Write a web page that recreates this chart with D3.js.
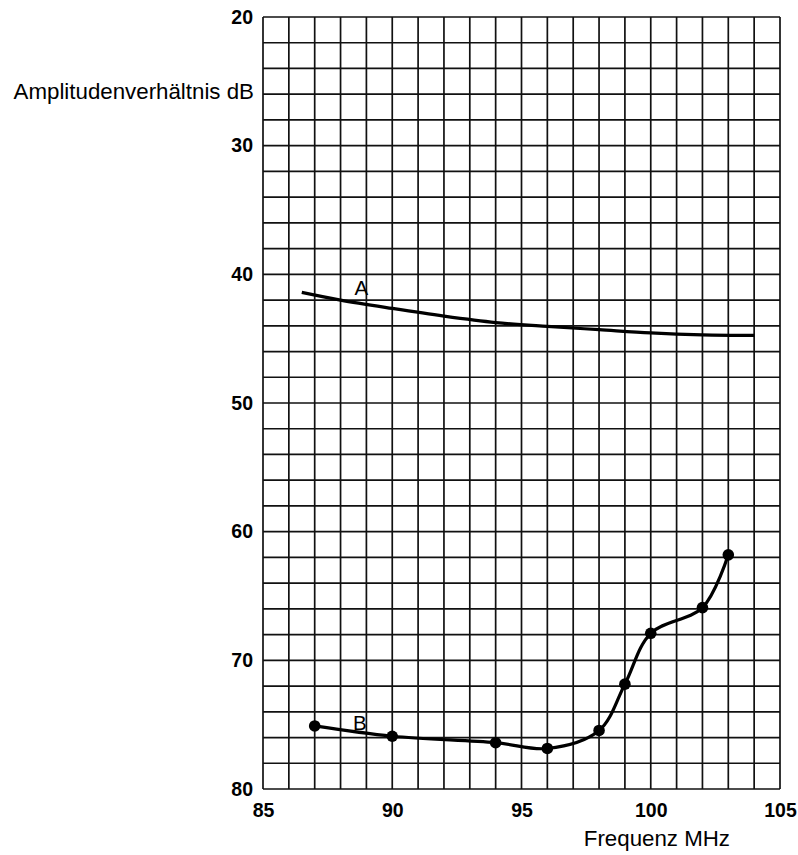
<!DOCTYPE html>
<html>
<head>
<meta charset="utf-8">
<script src="https://cdn.jsdelivr.net/npm/d3@7"></script>
<style>
  html, body { margin: 0; padding: 0; background: #fff; }
  svg { display: block; }
  text { font-family: "Liberation Sans", Arial, Helvetica, sans-serif; fill: #000; }
</style>
</head>
<body>
<svg id="chart" width="798" height="855"></svg>
<script>
// ---- data ----
const xTicks = [85, 90, 95, 100, 105];
const yTicks = [20, 30, 40, 50, 60, 70, 80];
const xLabel = "Frequenz MHz";
const yLabel = "Amplitudenverhältnis dB";

const seriesA_freq = [86.5, 88, 90, 92, 94, 96, 98, 100, 102, 104];
const seriesA_db   = [41.4, 42.0, 42.65, 43.25, 43.75, 44.05, 44.3, 44.55, 44.7, 44.75];

const seriesB_freq = [87, 90, 94, 96, 98, 99, 100, 102, 103];
const seriesB_db   = [75.1, 75.9, 76.4, 76.85, 75.45, 71.85, 67.9, 65.9, 61.8];

const labelA = { name: "A", freq: 88.8, db: 41.05 };
const labelB = { name: "B", freq: 88.75, db: 74.8 };

// ---- layout ----
const svg = d3.select("#chart");
const pLeft = 263, pRight = 780, pTop = 17, pBottom = 789;

const x = d3.scaleLinear().domain([85, 105]).range([pLeft, pRight]);
const y = d3.scaleLinear().domain([20, 80]).range([pTop, pBottom]);

// grid
const g = svg.append("g");
g.selectAll("line.v").data(d3.range(85, 106, 1)).join("line")
  .attr("class", "v")
  .attr("x1", d => x(d)).attr("x2", d => x(d))
  .attr("y1", pTop).attr("y2", pBottom)
  .attr("stroke", "#111").attr("stroke-width", 1.7);
g.selectAll("line.h").data(d3.range(20, 81, 2)).join("line")
  .attr("class", "h")
  .attr("y1", d => y(d)).attr("y2", d => y(d))
  .attr("x1", pLeft).attr("x2", pRight)
  .attr("stroke", "#111").attr("stroke-width", 1.7);

// axes (labels only)
const yAxis = d3.axisLeft(y).tickValues(yTicks).tickSize(0).tickPadding(10);
svg.append("g").attr("transform", `translate(${pLeft},0)`).call(yAxis)
  .call(a => a.select(".domain").remove())
  .call(a => a.selectAll("text")
    .style("font-family", '"Liberation Sans", Arial, sans-serif')
    .style("font-size", "19.5px").style("font-weight", "bold").attr("fill", "#000"));

const xAxis = d3.axisBottom(x).tickValues(xTicks).tickSize(0).tickPadding(14);
svg.append("g").attr("transform", `translate(0,${pBottom})`).call(xAxis)
  .call(a => a.select(".domain").remove())
  .call(a => a.selectAll("text")
    .style("font-family", '"Liberation Sans", Arial, sans-serif')
    .style("font-size", "19.5px").style("font-weight", "bold").attr("fill", "#000"));

svg.append("text").attr("x", 254).attr("y", 99).attr("text-anchor", "end")
  .style("font-size", "22.3px").text(yLabel);
svg.append("text").attr("x", 730).attr("y", 846).attr("text-anchor", "end")
  .style("font-size", "22.3px").text(xLabel);

// curves
const dataA = seriesA_freq.map((f, i) => [f, seriesA_db[i]]);
const dataB = seriesB_freq.map((f, i) => [f, seriesB_db[i]]);

const line = d3.line().x(d => x(d[0])).y(d => y(d[1])).curve(d3.curveCatmullRom.alpha(0.5));

svg.append("path").datum(dataA).attr("d", line)
  .attr("fill", "none").attr("stroke", "#000").attr("stroke-width", 3.2);
svg.append("path").datum(dataB).attr("d", line)
  .attr("fill", "none").attr("stroke", "#000").attr("stroke-width", 3.2);

svg.selectAll("circle.b").data(dataB).join("circle")
  .attr("class", "b")
  .attr("cx", d => x(d[0])).attr("cy", d => y(d[1])).attr("r", 5.8)
  .attr("fill", "#000");

[labelA, labelB].forEach(l => {
  svg.append("text").attr("x", x(l.freq)).attr("y", y(l.db))
    .attr("text-anchor", "middle").attr("dominant-baseline", "central")
    .style("font-size", "20.5px").text(l.name);
});
</script>
</body>
</html>
